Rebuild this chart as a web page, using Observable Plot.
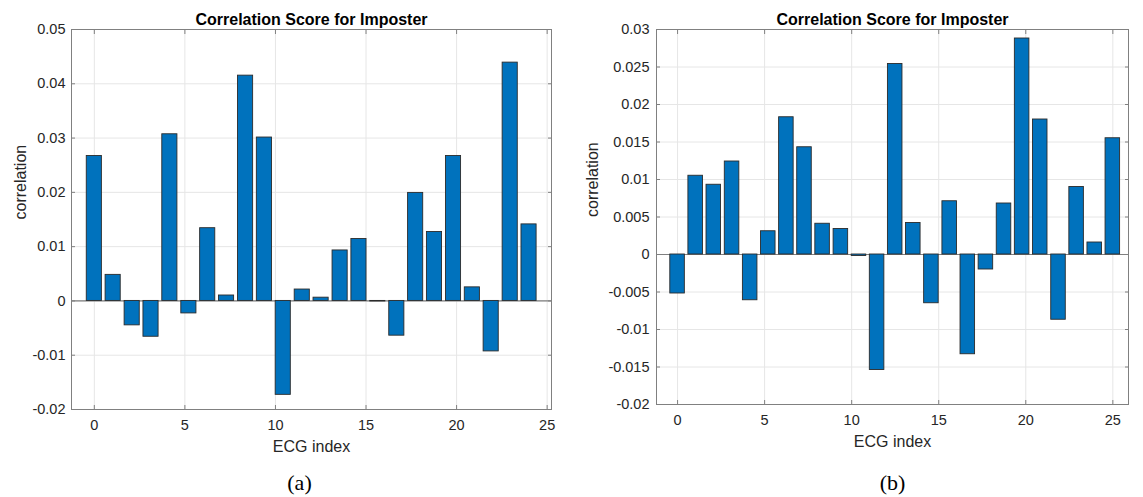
<!DOCTYPE html>
<html>
<head>
<meta charset="utf-8">
<script src="https://cdn.jsdelivr.net/npm/d3@7"></script>
<script src="https://cdn.jsdelivr.net/npm/@observablehq/plot@0.6"></script>
<style>
  html, body { margin: 0; padding: 0; background: #fff; }
  #wrap { display: flex; flex-direction: row; width: 1143px; height: 497px; }
</style>
</head>
<body>
<div id="wrap"></div>
<script>
// ---- Data ----
const titleText = "Correlation Score for Imposter";
const xLabelText = "ECG index";
const yLabelText = "correlation";

// Panel (a)
const idxA = [0, 1.04, 2.09, 3.13, 4.17, 5.22, 6.26, 7.30, 8.35, 9.39, 10.43, 11.48,
              12.52, 13.57, 14.61, 15.65, 16.70, 17.74, 18.78, 19.83, 20.87, 21.91, 22.96, 24.00];
const valA = [0.0267, 0.0048, -0.0045, -0.0066, 0.0307, -0.0023, 0.0134, 0.0010, 0.0415, 0.0301,
              -0.0173, 0.0021, 0.0006, 0.0093, 0.0114, -0.0001, -0.0064, 0.0199, 0.0127, 0.0267,
              0.0025, -0.0093, 0.0439, 0.0141];
const xTicksA = [0, 5, 10, 15, 20, 25];
const yTicksA = [-0.02, -0.01, 0, 0.01, 0.02, 0.03, 0.04, 0.05];

// Panel (b)
const idxB = [0, 1.04, 2.08, 3.13, 4.17, 5.21, 6.25, 7.29, 8.33, 9.38, 10.42, 11.46, 12.50,
              13.54, 14.58, 15.63, 16.67, 17.71, 18.75, 19.79, 20.83, 21.88, 22.92, 23.96, 25.00];
const valB = [-0.0052, 0.0105, 0.0093, 0.0124, -0.0061, 0.0031, 0.0183, 0.0143, 0.0041, 0.0034,
              -0.0002, -0.0154, 0.0254, 0.0042, -0.0065, 0.0071, -0.0133, -0.0020, 0.0068, 0.0288,
              0.0180, -0.0087, 0.0090, 0.0016, 0.0155];
const xTicksB = [0, 5, 10, 15, 20, 25];
const yTicksB = [-0.02, -0.015, -0.01, -0.005, 0, 0.005, 0.01, 0.015, 0.02, 0.025, 0.03];

const captions = ["(a)", "(b)"];

// ---- Drawing ----
const BAR_W = 0.835;
const fmt = d => String(+(+d).toFixed(4));

function panel(o) {
  const data = o.idx.map((x, i) => ({x, v: o.vals[i]}));
  const axisStroke = "#808080";
  return Plot.plot({
    width: o.width,
    height: 497,
    marginLeft: o.ml, marginRight: o.mr, marginTop: o.mt, marginBottom: o.mb,
    x: {domain: o.xDomain, label: null},
    y: {domain: o.yDomain, label: null},
    style: {fontFamily: "'Liberation Sans', Arial, sans-serif", fontSize: "14.5px", color: "#262626", background: "#fff"},
    marks: [
      Plot.gridX(o.xTicks, {stroke: "#e6e6e6", strokeOpacity: 1}),
      Plot.gridY(o.yTicks, {stroke: "#e6e6e6", strokeOpacity: 1}),
      Plot.ruleY([0], {stroke: "#7f7f7f", strokeWidth: 1.2}),
      Plot.rectY(data, {x1: d => d.x - BAR_W / 2, x2: d => d.x + BAR_W / 2, y1: 0, y2: "v",
                        fill: "#0072BD", stroke: "#2b2b2b", strokeWidth: 0.9}),
      Plot.frame({stroke: axisStroke}),
      // inward tick marks
      Plot.axisX(o.xTicks, {anchor: "bottom", tickSize: 4, text: null, dy: -4, stroke: axisStroke, label: null}),
      Plot.axisX(o.xTicks, {anchor: "top", tickSize: 4, text: null, dy: 4, stroke: axisStroke, label: null}),
      Plot.axisY(o.yTicks, {anchor: "left", tickSize: 4, text: null, dx: 4, stroke: axisStroke, label: null}),
      Plot.axisY(o.yTicks, {anchor: "right", tickSize: 4, text: null, dx: -4, stroke: axisStroke, label: null}),
      // tick labels
      Plot.axisX(o.xTicks, {anchor: "bottom", tickSize: 0, tickPadding: 10, tickFormat: fmt, fontSize: 14.5, label: null}),
      Plot.axisY(o.yTicks, {anchor: "left", tickSize: 0, tickPadding: o.yPad, tickFormat: fmt, fontSize: 14.5, label: null}),
      // title
      Plot.text([titleText], {frameAnchor: "top", lineAnchor: "bottom", dy: -5, fontSize: 16, fontWeight: "bold", fill: "#000"}),
      // axis labels
      Plot.text([xLabelText], {frameAnchor: "bottom", lineAnchor: "top", dy: 31, fontSize: 16, fill: "#262626"}),
      Plot.text([yLabelText], {frameAnchor: "left", rotate: -90, lineAnchor: "middle", dx: o.ylabDx, fontSize: 16, fill: "#262626"}),
      // caption
      Plot.text([o.caption], {frameAnchor: "bottom", lineAnchor: "middle", dy: o.capDy, dx: o.capDx,
                              fontSize: 22, fontFamily: "'Liberation Serif', 'Times New Roman', serif", fill: "#000"})
    ]
  });
}

const wrap = document.getElementById("wrap");
wrap.appendChild(panel({
  idx: idxA, vals: valA, xTicks: xTicksA, yTicks: yTicksA,
  xDomain: [-1.26, 25.24], yDomain: [-0.02, 0.05],
  width: 575, ml: 71, mr: 24, mt: 29, mb: 88, yPad: 6,
  ylabDx: -51, caption: captions[0], capDx: -12, capDy: 73
}));
wrap.appendChild(panel({
  idx: idxB, vals: valB, xTicks: xTicksB, yTicks: yTicksB,
  xDomain: [-1.21, 25.9], yDomain: [-0.02, 0.03],
  width: 568, ml: 81, mr: 15, mt: 29, mb: 93, yPad: 7,
  ylabDx: -64, caption: captions[1], capDx: 0, capDy: 78
}));
</script>
</body>
</html>
